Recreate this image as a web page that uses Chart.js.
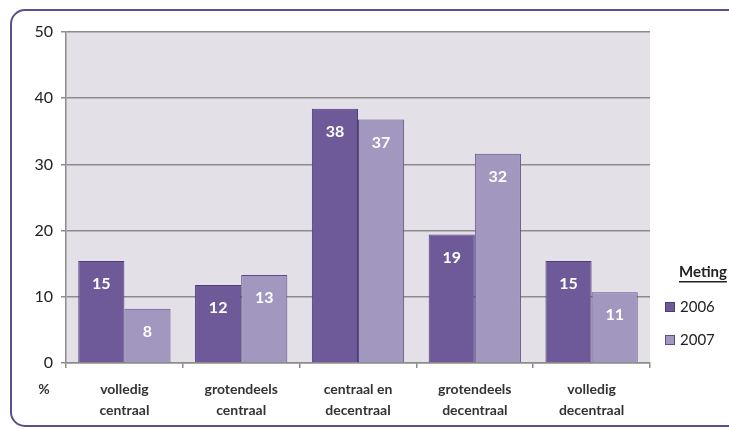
<!DOCTYPE html>
<html>
<head>
<meta charset="utf-8">
<script src="https://cdn.jsdelivr.net/npm/chart.js@4/dist/chart.umd.min.js"></script>
<style>
  html, body { margin: 0; padding: 0; background: #fff; }
  #wrap { position: relative; width: 729px; height: 429px; }
</style>
</head>
<body>
<div id="wrap"><canvas id="chart" width="729" height="429"></canvas></div>
<script>
// categories and values
const categories = [
  ['volledig', 'centraal'],
  ['grotendeels', 'centraal'],
  ['centraal en', 'decentraal'],
  ['grotendeels', 'decentraal'],
  ['volledig', 'decentraal']
];
const series2006 = [15.4, 11.8, 38.4, 19.4, 15.4];
const series2007 = [8.2, 13.3, 36.8, 31.6, 10.7];
const seriesNames = ['2006', '2007'];
const yTicks = [0, 10, 20, 30, 40, 50];

const FONT = 'Lato, "Open Sans", sans-serif';

// background of the plot + rounded outer frame
const frame = {
  id: 'frame',
  beforeDraw(chart) {
    const ctx = chart.ctx, a = chart.chartArea;
    ctx.save();
    ctx.fillStyle = '#E4E0E8';
    ctx.fillRect(a.left, a.top, a.right - a.left, a.bottom - a.top);
    ctx.strokeStyle = '#5E4D8A';
    ctx.lineWidth = 2;
    ctx.beginPath();
    ctx.roundRect(11, 10, 740, 416, 14);
    ctx.stroke();
    ctx.restore();
  }
};

// white value labels inside bar tops
const valueLabels = {
  id: 'valueLabels',
  afterDatasetsDraw(chart) {
    const ctx = chart.ctx;
    ctx.save();
    ctx.fillStyle = '#fff';
    ctx.font = 'bold 16px ' + FONT;
    ctx.textAlign = 'center';
    ctx.textBaseline = 'middle';
    chart.data.datasets.forEach((ds, i) => {
      chart.getDatasetMeta(i).data.forEach((bar, j) => {
        ctx.fillText(Math.round(ds.data[j]), bar.x, bar.y + 23);
      });
    });
    ctx.restore();
  }
};

// legend on the right and the "%" unit label
const sideLegend = {
  id: 'sideLegend',
  afterDraw(chart) {
    const ctx = chart.ctx;
    ctx.save();
    ctx.fillStyle = '#222';
    ctx.font = 'bold 15px ' + FONT;
    ctx.textBaseline = 'middle';
    ctx.fillText('Meting', 679, 272);
    const w = ctx.measureText('Meting').width;
    ctx.fillRect(679, 281, w, 1.5);
    ctx.font = '15px ' + FONT;
    chart.data.datasets.forEach((ds, i) => {
      const y = 307 + i * 33;
      ctx.fillStyle = ds.backgroundColor;
      ctx.strokeStyle = ds.borderColor;
      ctx.lineWidth = 1;
      ctx.fillRect(665, y - 5, 10, 10);
      ctx.strokeRect(665.5, y - 4.5, 9, 9);
      ctx.fillStyle = '#222';
      ctx.fillText(ds.label, 680, y);
    });
    ctx.font = 'bold 14px ' + FONT;
    ctx.textAlign = 'center';
    ctx.fillStyle = '#333';
    ctx.fillText('%', 44, 389);
    ctx.restore();
  }
};

new Chart(document.getElementById('chart'), {
  type: 'bar',
  data: {
    labels: categories,
    datasets: [
      { label: seriesNames[0], data: series2006, backgroundColor: '#6E5A98', borderColor: '#4E3C78', borderWidth: 1 },
      { label: seriesNames[1], data: series2007, backgroundColor: '#A197BF', borderColor: '#5E4D8A', borderWidth: 1 }
    ]
  },
  options: {
    responsive: false,
    animation: false,
    layout: { padding: { left: 0, top: 32, right: 79, bottom: 0 } },
    datasets: { bar: { categoryPercentage: 0.79, barPercentage: 1 } },
    plugins: { legend: { display: false }, tooltip: { enabled: false } },
    scales: {
      x: {
        afterFit(s) { s.height = 66; },
        grid: { offset: true, drawOnChartArea: false, color: '#8C8C8C', lineWidth: 1.5, tickLength: 5 },
        border: { color: '#8C8C8C', width: 1.5 },
        ticks: { color: '#333', font: { family: FONT, size: 14, weight: 'bold', lineHeight: 1.5 }, padding: 11, maxRotation: 0 }
      },
      y: {
        min: 0, max: 50,
        afterFit(s) { s.width = 66; },
        afterBuildTicks(s) { s.ticks = yTicks.map(v => ({ value: v })); },
        grid: { color: '#8C8C8C', lineWidth: 1.5, tickLength: 5 },
        border: { color: '#8C8C8C', width: 1.5 },
        ticks: { color: '#222', font: { family: FONT, size: 16 }, padding: 8 }
      }
    }
  },
  plugins: [frame, valueLabels, sideLegend]
});
</script>
</body>
</html>
